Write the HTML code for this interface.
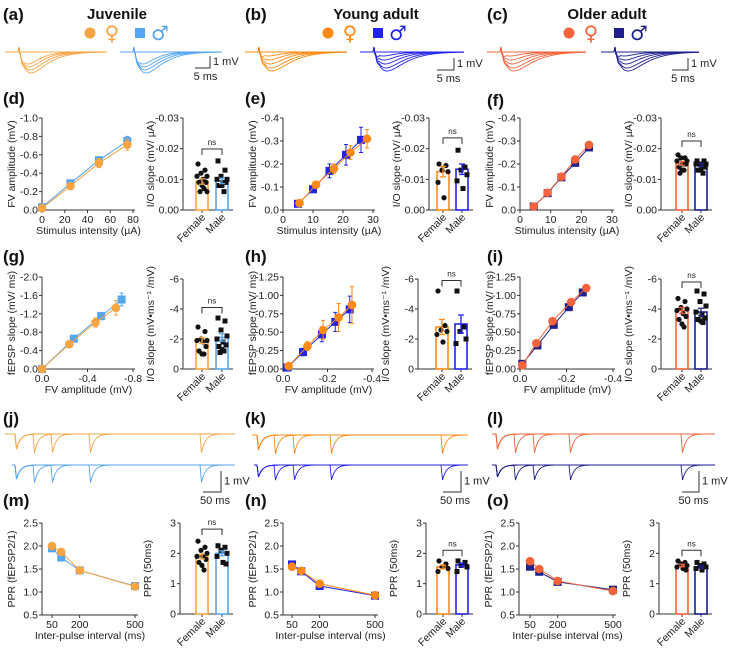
<!DOCTYPE html>
<html><head><meta charset="utf-8">
<style>
html,body{margin:0;padding:0;background:#fff;}
svg{display:block;font-family:"Liberation Sans",Arial,sans-serif;}
</style></head>
<body>
<svg id="fig" width="732" height="653" viewBox="0 0 732 653" xmlns="http://www.w3.org/2000/svg"></svg>
<script>
// ---------- DATA ----------
const dX=[0,25,50,75], dF=[-0.02,-0.26,-0.51,-0.71], dM=[-0.03,-0.29,-0.54,-0.75], dFe=[0.01,0.03,0.05,0.06], dMe=[0.01,0.03,0.04,0.05];
const dYT=[0,-0.2,-0.4,-0.6,-0.8,-1.0], dYL=['0.0','-0.2','-0.4','-0.6','-0.8','-1.0'], dXT=[0,20,40,60,80], dXL=['0','20','40','60','80'];
const dbF=[-0.015,-0.013,-0.012,-0.011,-0.011,-0.010,-0.009,-0.009,-0.008,-0.007,-0.006,-0.006], dbM=[-0.016,-0.013,-0.011,-0.010,-0.010,-0.009,-0.009,-0.008,-0.008,-0.006];
const dbMean=[-0.0093,-0.0095], dbSem=[0.0009,0.0009];
const ioYT=[0,-0.01,-0.02,-0.03], ioYL=['0.00','-0.01','-0.02','-0.03'];

const eFX=[5.5,11,17,22.5,28], eF=[-0.03,-0.11,-0.18,-0.25,-0.31], eFe=[0.005,0.01,0.02,0.03,0.04];
const eMX=[5,10,15.5,21,26], eM=[-0.027,-0.09,-0.17,-0.24,-0.305], eMe=[0.006,0.01,0.03,0.045,0.055];
const eYT=[0,-0.1,-0.2,-0.3,-0.4], eYL=['0.0','-0.1','-0.2','-0.3','-0.4'], eXT=[0,10,20,30], eXL=['0','10','20','30'];
const ebF=[-0.015,-0.0145,-0.013,-0.0125,-0.009,-0.004], ebM=[-0.0195,-0.014,-0.013,-0.0115,-0.0095,-0.007];
const ebMean=[-0.0125,-0.0133], ebSem=[0.0017,0.0017];

const fX=[4.5,9,13.5,18,22.5], fF=[-0.015,-0.075,-0.145,-0.22,-0.283], fM=[-0.015,-0.073,-0.142,-0.205,-0.272], fFe=[0.003,0.004,0.005,0.006,0.006], fMe=[0.003,0.004,0.005,0.006,0.006];
const fbF=[-0.018,-0.017,-0.017,-0.016,-0.016,-0.015,-0.015,-0.014,-0.013,-0.013,-0.012], fbM=[-0.016,-0.016,-0.015,-0.015,-0.015,-0.014,-0.014,-0.013,-0.013,-0.012];
const fbMean=[-0.0152,-0.0147], fbSem=[0.0006,0.0005];

const gFX=[0,-0.24,-0.47,-0.65], gF=[0,-0.54,-1.01,-1.33], gFe=[0.02,0.05,0.1,0.16];
const gMX=[0,-0.28,-0.52,-0.70], gM=[0,-0.66,-1.15,-1.51], gMe=[0.02,0.05,0.08,0.14];
const gYT=[0,-0.4,-0.8,-1.2,-1.6,-2.0], gYL=['0.0','-0.4','-0.8','-1.2','-1.6','-2.0'], gXT=[0,-0.4,-0.8], gXL=['0.0','-0.4','-0.8'];
const gbF=[-2.8,-2.5,-2.0,-1.9,-1.9,-1.8,-1.5,-1.2,-1.0,-1.0], gbM=[-3.4,-3.2,-2.6,-2.2,-2.0,-1.8,-1.6,-1.5,-1.3,-1.2,-1.1];
const gbMean=[-1.9,-2.1], gbSem=[0.2,0.25];
const slYT=[0,-2,-4,-6], slYL=['0','-2','-4','-6'];

const hFX=[0.025,0.11,0.18,0.25,0.31], hF=[-0.04,-0.31,-0.53,-0.70,-0.87], hFe=[0.02,0.06,0.13,0.19,0.25];
const hMX=[0.02,0.09,0.175,0.235,0.30], hM=[-0.02,-0.23,-0.47,-0.64,-0.81], hMe=[0.02,0.05,0.1,0.13,0.18];
const hYT=[0,-0.25,-0.5,-0.75,-1.0,-1.25], hYL=['0.00','-0.25','-0.50','-0.75','-1.00','-1.25'], hXT=[0,-0.2,-0.4], hXL=['0.0','-0.2','-0.4'];
const hbF=[-5.2,-2.9,-2.6,-2.5,-2.3,-1.8], hbM=[-5.2,-2.8,-2.5,-2.0,-1.7];
const hbMean=[-2.8,-3.0], hbSem=[0.5,0.6];

const iFX=[-0.01,-0.07,-0.14,-0.22,-0.285], iF=[-0.05,-0.35,-0.65,-0.91,-1.10], iFe=[0.01,0.02,0.02,0.03,0.03];
const iMX=[-0.01,-0.075,-0.145,-0.21,-0.27], iM=[-0.07,-0.32,-0.60,-0.84,-1.04], iMe=[0.01,0.02,0.02,0.03,0.03];
const ibF=[-4.7,-4.5,-4.1,-4.0,-3.9,-3.7,-3.5,-3.3,-3.0,-2.8], ibM=[-5.2,-5.0,-4.5,-4.2,-3.8,-3.6,-3.4,-3.3,-3.2,-3.1];
const ibMean=[-3.9,-3.8], ibSem=[0.2,0.25];

const pX=[50,100,200,500], pYT=[0.5,1.0,1.5,2.0,2.5], pYL=['0.5','1.0','1.5','2.0','2.5'], pXT=[50,200,500], pXL=['50','200','500'];
const mF=[2.0,1.87,1.47,1.12], mM=[1.95,1.75,1.47,1.13];
const nF=[1.55,1.46,1.18,0.93], nM=[1.60,1.45,1.13,0.92];
const oF=[1.67,1.50,1.24,1.02], oM=[1.55,1.44,1.22,1.05];
const pE=[0.03,0.03,0.03,0.03];
const mbF=[2.4,2.2,2.1,2.0,1.9,1.9,1.8,1.7,1.6,1.45], mbM=[2.25,2.2,2.1,2.0,1.9,1.7,1.65];
const mbMean=[1.9,2.0], mbSem=[0.08,0.08];
const nbF=[1.75,1.65,1.55,1.5,1.4], nbM=[1.75,1.7,1.6,1.55,1.4];
const nbMean=[1.55,1.62], nbSem=[0.06,0.06];
const obF=[1.75,1.7,1.65,1.6,1.55,1.5,1.45], obM=[1.7,1.65,1.6,1.55,1.5,1.45];
const obMean=[1.6,1.55], obSem=[0.04,0.04];
const ppYT=[0,1,2,3], ppYL=['0','1','2','3'];

// ---------- DRAW ----------
const NS='http://www.w3.org/2000/svg';
const S=document.getElementById('fig');
function mk(tag,a,par){const e=document.createElementNS(NS,tag);for(const k in a)e.setAttribute(k,a[k]);(par||S).appendChild(e);return e;}
function txt(x,y,s,size,anchor,extra,par){const t=mk('text',Object.assign({x:x,y:y,'font-size':size,'text-anchor':anchor||'middle',fill:'#222'},extra||{}),par);t.textContent=s;return t;}
const AX='#333';
const C={jf:'#F7A443',jm:'#55A6F2',yf:'#FF8A12',ym:'#2222EE',of:'#F4633A',om:'#1E1E8C'};

function linePanel(p){
  const g=mk('g',{});
  
  
  const sx=v=>p.px0+(v-p.xd[0])/(p.xd[1]-p.xd[0])*(p.px1-p.px0);
  const sy=v=>p.bot+(v-p.yd[0])/(p.yd[1]-p.yd[0])*(p.top-p.bot);
  const ya=mk('line',{x1:p.ax,y1:p.top,x2:p.ax,y2:p.bot,stroke:AX,'stroke-width':1},g);
  
  
  const xa=mk('line',{x1:p.ax,y1:p.bot,x2:p.xend,y2:p.bot,stroke:AX,'stroke-width':1},g);
  
  
  p.yt.forEach((v,i)=>{const y=sy(v);mk('line',{x1:p.ax-3,y1:y,x2:p.ax,y2:y,stroke:AX},g);
    const t=txt(p.ax-4,y+3.5,p.yl[i],10.5,'end',{},g);
    
    });
  p.xt.forEach((v,i)=>{const x=sx(v);mk('line',{x1:x,y1:p.bot,x2:x,y2:p.bot+3,stroke:AX},g);
    const t=txt(x,p.bot+13,p.xl[i],10.5,'middle',{},g);
    
    });
  const yt=txt(0,0,p.ytitle,10.5,'middle',{transform:`translate(${p.ax-27},${(p.top+p.bot)/2}) rotate(-90)`},g);
  
  
  const xt=txt((p.ax+p.xend)/2,p.bot+24,p.xtitle,10.5,'middle',{},g);
  
  
  p.series.forEach(s=>{
    const pts=s.x.map((xv,i)=>sx(xv)+','+sy(s.y[i])).join(' ');
    const pl=mk('polyline',{points:pts,fill:'none',stroke:s.c,'stroke-width':1},g);
    
    
    s.x.forEach((xv,i)=>{const x=sx(xv),y=sy(s.y[i]);
      const e1=sy(s.y[i]-s.e[i]*Math.sign(p.yd[1]-p.yd[0])), e2=sy(s.y[i]+s.e[i]*Math.sign(p.yd[1]-p.yd[0]));
      const eb=mk('path',{d:`M${x},${e1}V${e2}M${x-2},${e1}H${x+2}M${x-2},${e2}H${x+2}`,stroke:s.c,'stroke-width':1,fill:'none'},g);
      
      
      let m;
      if(s.sex==='female'){m=mk('circle',{cx:x,cy:y,r:4.3,fill:s.c},g);}
      else{m=mk('rect',{x:x-4,y:y-4,width:8,height:8,fill:s.c},g);}
      
      
    });
  });
}
const jit=[-4,3,-1,5,-5,1,4,-3,0,2,-2,5];
function barPanel(p){
  const g=mk('g',{});
  
  
  const sy=v=>p.bot+(v-p.yd[0])/(p.yd[1]-p.yd[0])*(p.top-p.bot);
  const sgn=Math.sign(p.yd[1]-p.yd[0]);
  const ya=mk('line',{x1:p.ax,y1:p.top,x2:p.ax,y2:p.bot,stroke:AX},g);
  
  
  const xa=mk('line',{x1:p.ax,y1:p.bot,x2:p.cx[1]+11,y2:p.bot,stroke:AX},g);
  
  
  p.yt.forEach((v,i)=>{const y=sy(v);mk('line',{x1:p.ax-3,y1:y,x2:p.ax,y2:y,stroke:AX},g);
    const t=txt(p.ax-4,y+3.5,p.yl[i],10.5,'end',{},g);
    
    });
  const yt=txt(0,0,p.ytitle,10.5,'middle',{transform:`translate(${p.ax-29},${(p.top+p.bot)/2}) rotate(-90)`},g);
  
  
  const dots=[p.fd,p.md], sexes=['female','male'], names=['Female','Male'];
  [0,1].forEach(k=>{
    const cx=p.cx[k], c=p.col[k], my=sy(p.mean[k]);
    mk('line',{x1:cx,y1:p.bot,x2:cx,y2:p.bot+3,stroke:AX},g);
    const b=mk('rect',{x:cx-6,y:my,width:12,height:p.bot-my,fill:'#fff',stroke:c,'stroke-width':1.6},g);
    
    
    dots[k].forEach((v,i)=>{const x=cx+jit[i%jit.length],y=sy(v);let d;
      if(k===0){d=mk('circle',{cx:x,cy:y,r:2.6,fill:'#111'},g);}else{d=mk('rect',{x:x-2.5,y:y-2.5,width:5,height:5,fill:'#111'},g);}
      
      });
    const e1=sy(p.mean[k]-p.sem[k]*sgn), e2=sy(p.mean[k]+p.sem[k]*sgn);
    const eb=mk('path',{d:`M${cx},${e1}V${e2}M${cx-3},${e1}H${cx+3}M${cx-3},${e2}H${cx+3}`,stroke:c,'stroke-width':1.3,fill:'none'},g);
    
    
    const t=txt(0,0,names[k],10.5,'end',{transform:`translate(${cx+4},${p.bot+8}) rotate(-45)`},g);
    
    
  });
  const by=sy(p.br);
  const br=mk('path',{d:`M${p.cx[0]},${by+6}V${by}H${p.cx[1]}V${by+6}`,stroke:AX,fill:'none'},g);
  
  
  const ns=txt((p.cx[0]+p.cx[1])/2,by-4,'ns',8,'middle',{},g);
  
  
}
const fv='FV amplitude (mV)', io='I/O slope (mV/ µA)', fe='fEPSP slope (mV/ ms)', ppr='PPR (fEPSP2/1)', pp50='PPR (50ms)';
const sl='I/O slope (mV•ms\u207B\u00B9 /mV)', stim='Stimulus intensity (µA)', ipi='Inter-pulse interval (ms)';
function ser(x,y,e,c,sex){return {x:x,y:y,e:e,c:c,sex:sex};}
// row 1
linePanel({name:'chart-d-line',ax:42,px0:42,px1:133,xend:135,xd:[0,80],top:118,bot:210,yd:[0,-1.0],yt:dYT,yl:dYL,xt:dXT,xl:dXL,ytitle:fv,xtitle:stim,series:[ser(dX,dM,dMe,C.jm,'male'),ser(dX,dF,dFe,C.jf,'female')]});
barPanel({name:'chart-d-bar',ax:183,top:118,bot:210,yd:[0,-0.03],yt:ioYT,yl:ioYL,cx:[202,222],col:[C.jf,C.jm],fd:dbF,md:dbM,mean:dbMean,sem:dbSem,br:-0.0199,ytitle:io});
linePanel({name:'chart-e-line',ax:283,px0:283,px1:373,xend:375,xd:[0,30],top:118,bot:210,yd:[0,-0.4],yt:eYT,yl:eYL,xt:eXT,xl:eXL,ytitle:fv,xtitle:stim,series:[ser(eMX,eM,eMe,C.ym,'male'),ser(eFX,eF,eFe,C.yf,'female')]});
barPanel({name:'chart-e-bar',ax:429,top:118,bot:210,yd:[0,-0.03],yt:ioYT,yl:ioYL,cx:[443,462],col:[C.yf,C.ym],fd:ebF,md:ebM,mean:ebMean,sem:ebSem,br:-0.0235,ytitle:io});
linePanel({name:'chart-f-line',ax:520,px0:520,px1:612,xend:614,xd:[0,30],top:118,bot:210,yd:[0,-0.4],yt:eYT,yl:eYL,xt:eXT,xl:eXL,ytitle:fv,xtitle:stim,series:[ser(fX,fM,fMe,C.om,'male'),ser(fX,fF,fFe,C.of,'female')]});
barPanel({name:'chart-f-bar',ax:661,top:118,bot:210,yd:[0,-0.03],yt:ioYT,yl:ioYL,cx:[682,701],col:[C.of,C.om],fd:fbF,md:fbM,mean:fbMean,sem:fbSem,br:-0.0225,ytitle:io});
// row 2
linePanel({name:'chart-g-line',ax:42,px0:42,px1:133,xend:135,xd:[0,-0.8],top:277,bot:369,yd:[0,-2.0],yt:gYT,yl:gYL,xt:gXT,xl:gXL,ytitle:fe,xtitle:fv,series:[ser(gMX,gM,gMe,C.jm,'male'),ser(gFX,gF,gFe,C.jf,'female')]});
barPanel({name:'chart-g-bar',ax:183,top:279,bot:369,yd:[0,-6],yt:slYT,yl:slYL,cx:[202,222],col:[C.jf,C.jm],fd:gbF,md:gbM,mean:gbMean,sem:gbSem,br:-4.1,ytitle:sl});
linePanel({name:'chart-h-line',ax:283,px0:283,px1:372,xend:374,xd:[0,-0.4],top:277,bot:369,yd:[0,-1.25],yt:hYT,yl:hYL,xt:hXT,xl:hXL,ytitle:fe,xtitle:fv,series:[ser(hMX.map(v=>-v),hM,hMe,C.ym,'male'),ser(hFX.map(v=>-v),hF,hFe,C.yf,'female')]});
barPanel({name:'chart-h-bar',ax:418,top:279,bot:369,yd:[0,-6],yt:slYT,yl:slYL,cx:[442,461],col:[C.yf,C.ym],fd:hbF,md:hbM,mean:hbMean,sem:hbSem,br:-5.9,ytitle:sl});
linePanel({name:'chart-i-line',ax:520,px0:520,px1:613,xend:615,xd:[0,-0.4],top:277,bot:369,yd:[0,-1.25],yt:hYT,yl:hYL,xt:hXT,xl:hXL,ytitle:fe,xtitle:fv,series:[ser(iMX,iM,iMe,C.om,'male'),ser(iFX,iF,iFe,C.of,'female')]});
barPanel({name:'chart-i-bar',ax:661,top:279,bot:369,yd:[0,-6],yt:slYT,yl:slYL,cx:[682,701],col:[C.of,C.om],fd:ibF,md:ibM,mean:ibMean,sem:ibSem,br:-5.8,ytitle:sl});
// row 3
linePanel({name:'chart-m-line',ax:42,px0:52,px1:135,xend:138,xd:[50,500],top:523,bot:615,yd:[0.5,2.5],yt:pYT,yl:pYL,xt:pXT,xl:pXL,ytitle:ppr,xtitle:ipi,series:[ser(pX,mM,pE,C.jm,'male'),ser(pX,mF,pE,C.jf,'female')]});
barPanel({name:'chart-m-bar',ax:180,top:523,bot:614,yd:[0,3],yt:ppYT,yl:ppYL,cx:[202,222],col:[C.jf,C.jm],fd:mbF,md:mbM,mean:mbMean,sem:mbSem,br:2.8,ytitle:pp50});
linePanel({name:'chart-n-line',ax:283,px0:292,px1:375,xend:378,xd:[50,500],top:523,bot:615,yd:[0.5,2.5],yt:pYT,yl:pYL,xt:pXT,xl:pXL,ytitle:ppr,xtitle:ipi,series:[ser(pX,nM,pE,C.ym,'male'),ser(pX,nF,pE,C.yf,'female')]});
barPanel({name:'chart-n-bar',ax:426,top:523,bot:614,yd:[0,3],yt:ppYT,yl:ppYL,cx:[443,462],col:[C.yf,C.ym],fd:nbF,md:nbM,mean:nbMean,sem:nbSem,br:2.1,ytitle:pp50});
linePanel({name:'chart-o-line',ax:519,px0:530,px1:613,xend:616,xd:[50,500],top:523,bot:615,yd:[0.5,2.5],yt:pYT,yl:pYL,xt:pXT,xl:pXL,ytitle:ppr,xtitle:ipi,series:[ser(pX,oM,pE,C.om,'male'),ser(pX,oF,pE,C.of,'female')]});
barPanel({name:'chart-o-bar',ax:659,top:523,bot:614,yd:[0,3],yt:ppYT,yl:ppYL,cx:[682,701],col:[C.of,C.om],fd:obF,md:obM,mean:obMean,sem:obSem,br:2.1,ytitle:pp50});

// ---------- TRACES ----------
function evoked(x0,x1,y0,c,amps,name){
  const g=mk('g',{});
  
  
  amps.forEach((A,i)=>{
    let d=`M${x0},${y0}H${x0+13}L${x0+14},${y0-5}L${x0+15},${y0+3}`;
    for(let x=x0+15;x<=x1;x+=1){const t=(x-x0-15);
      const fvv=3*Math.exp(-Math.pow((t-2)/1.5,2));
      const ep=A*(t/ (8+i))*Math.exp(1-t/(8+i));
      d+=`L${x},${(y0+fvv+ep).toFixed(2)}`;}
    mk('path',{d:d,fill:'none',stroke:c,'stroke-width':0.9},g);
  });
  mk('line',{x1:x0+14,y1:y0,x2:x1,y2:y0,stroke:c,'stroke-width':0.9},g);
}
evoked(5,107,52,C.jf,[12,15,18,21],'juvenile-female-traces');
evoked(120,222,52,C.jm,[12,15,18,21],'juvenile-male-traces');
evoked(245,347,52,C.yf,[4,8,12,16,19],'young-female-traces');
evoked(360,464,52,C.ym,[4,8,12,16,19],'young-male-traces');
evoked(487,586,52,C.of,[4,8,12,16,19],'older-female-traces');
evoked(601,699,52,C.om,[4,8,12,16,19],'older-male-traces');

function paired(x0,x1,y0,c,pulses,amp,name){
  const g=mk('g',{});
  
  
  for(let k=1;k<pulses.length;k++){
    const pp=[pulses[0],pulses[k]];
    let d=`M${x0},${y0}`;
    for(let x=x0;x<=x1;x+=0.5){let y=y0;
      pp.forEach((p,j)=>{const t=x-p;const a=amp*(j?1.25:1);
        if(t>=0&&t<1.5)y+=a*t/1.5;else if(t>=1.5)y+=a*Math.exp(-(t-1.5)/4);});
      d+=`L${x},${y.toFixed(2)}`;}
    mk('path',{d:d,fill:'none',stroke:c,'stroke-width':0.9},g);
  }
}
paired(5,235,434,C.jf,[15,33,51,89,200],15,'juvenile-female-ppf');
paired(12,235,465,C.jm,[15,33,51,89,200],14,'juvenile-male-ppf');
paired(252,468,435,C.yf,[257,274,293,330,441],15,'young-female-ppf');
paired(254,468,465,C.ym,[257,274,293,330,441],12,'young-male-ppf');
paired(492,715,434,C.of,[496,514,533,569,681],15,'older-female-ppf');
paired(492,715,465,C.om,[496,514,533,569,681],12,'older-male-ppf');

function scalebar(xv,yt,yb,xl,lab1,lab2,name){
  const g=mk('g',{});
  
  
  mk('path',{d:`M${xv},${yt}V${yb}H${xl}`,stroke:'#333',fill:'none','stroke-width':1},g);
  txt(xv+3,(yt+yb)/2+3,lab1,11,'start',{},g);
  txt((xv+xl)/2+3,yb+12,lab2,11,'middle',{},g);
}
scalebar(210,56,68,195,'1 mV','5 ms','scale-bar-a');
scalebar(454,58,70,437,'1 mV','5 ms','scale-bar-b');
scalebar(688,58,70,672,'1 mV','5 ms','scale-bar-c');
scalebar(221,471,492,203,'1 mV','50 ms','scale-bar-j');
scalebar(461,471,492,443,'1 mV','50 ms','scale-bar-k');
scalebar(699,471,492,682,'1 mV','50 ms','scale-bar-l');

// ---------- LABELS / LEGENDS ----------
[['(a)',3,20],['(b)',245,20],['(c)',487,20],['(d)',3,104],['(e)',245,104],['(f)',487,106],['(g)',3,262],['(h)',245,262],['(i)',487,262],['(j)',3,424],['(k)',245,424],['(l)',487,424],['(m)',3,506],['(n)',245,506],['(o)',487,506]].forEach(a=>{
  const t=txt(a[1],a[2],a[0],17,'start',{'font-weight':'bold',fill:'#111'});
  
  
});
function legend(title,tx,cx,fc,mc,name){
  const g=mk('g',{});
  
  
  txt(tx,19,title,15,'middle',{'font-weight':'bold',fill:'#111'},g);
  mk('circle',{cx:cx,cy:33,r:5.5,fill:fc},g);
  txt(cx+22,40,'\u2640',20,'middle',{fill:fc,'font-family':'DejaVu Sans'},g);
  mk('rect',{x:cx+45,y:28,width:10,height:10,fill:mc},g);
  txt(cx+70,40,'\u2642',20,'middle',{fill:mc,'font-family':'DejaVu Sans'},g);
}
legend('Juvenile',117,90,C.jf,C.jm,'legend-juvenile');
legend('Young adult',376,328,C.yf,C.ym,'legend-young-adult');
legend('Older adult',607,569,C.of,C.om,'legend-older-adult');
</script>
</body></html>
